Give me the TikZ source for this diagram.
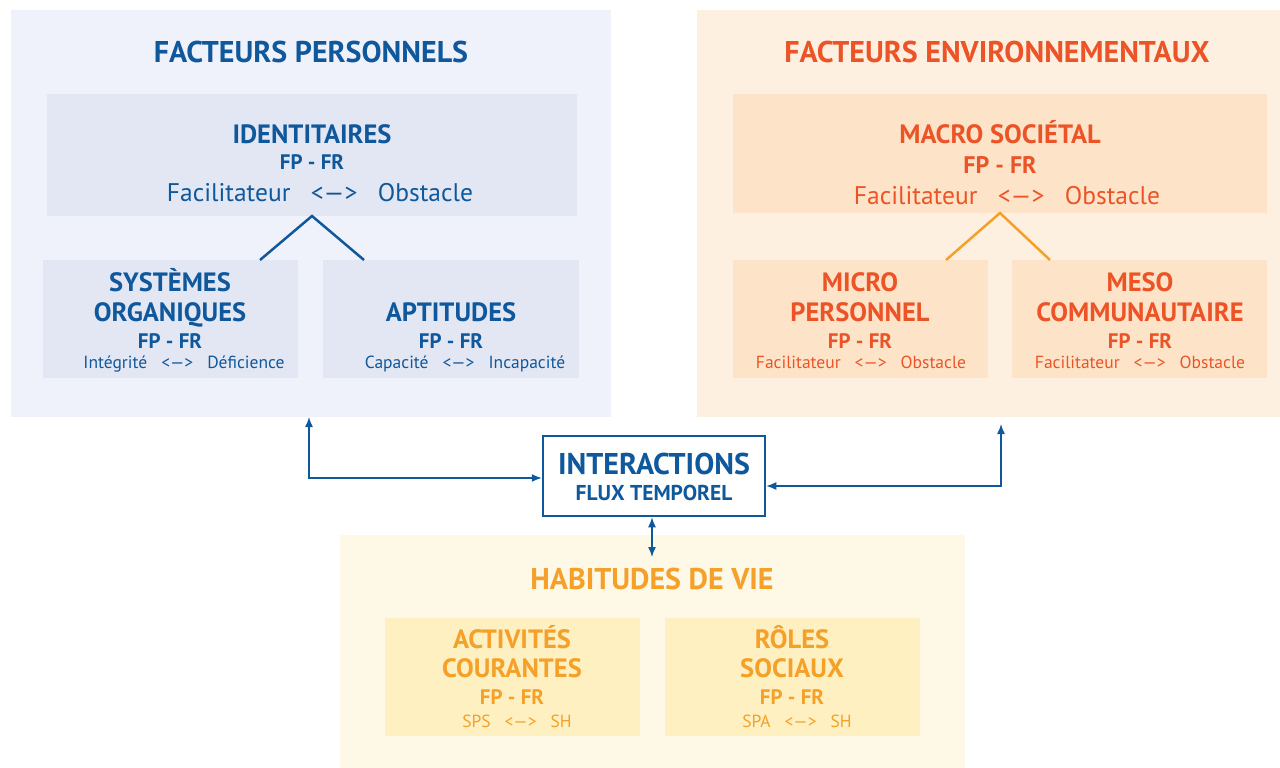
\documentclass[tikz,border=0pt]{standalone}
\usepackage{fontspec}
\setmainfont{PT Sans}
\usetikzlibrary{positioning,calc,arrows.meta}

\definecolor{fpblue}{RGB}{16,88,156}
\definecolor{persobg}{RGB}{240,242,251}
\definecolor{persobox}{RGB}{227,231,243}
\definecolor{envred}{RGB}{236,84,40}
\definecolor{envbg}{RGB}{253,240,224}
\definecolor{envbox}{RGB}{253,228,200}
\definecolor{envline}{RGB}{245,160,40}
\definecolor{habyel}{RGB}{245,160,40}
\definecolor{habbg}{RGB}{254,248,230}
\definecolor{habbox}{RGB}{254,240,192}

\newcommand{\rel}[2]{#1\hspace{0.8em}<—>\hspace{0.8em}#2}

\begin{document}
\begin{tikzpicture}[x=1pt, y=-1pt,
    zone/.style = {anchor=north west, inner sep=0pt, outer sep=0pt},
    title/.style = {anchor=base, font=\fontsize{30}{33}\selectfont\bfseries},
    head/.style = {anchor=base, font=\fontsize{26.5}{29}\selectfont\bfseries},
    fpfr/.style = {anchor=base, font=\fontsize{21}{24}\selectfont\bfseries},
    relbig/.style = {anchor=base, font=\fontsize{25.5}{28}\selectfont},
    relsmall/.style = {anchor=base, font=\fontsize{17.5}{20}\selectfont},
    tree/.style = {line width=2.5pt},
    flux/.style = {draw=fpblue, line width=1.4pt, {Latex[length=10pt,width=8pt]}-{Latex[length=10pt,width=8pt]}}]

    \useasboundingbox (0,0) rectangle (1280,768);

    % fonds
    \node[zone, fill=persobg, minimum width=600pt, minimum height=407pt] (perso) at (11,10) {};
    \node[zone, fill=envbg, minimum width=583pt, minimum height=407pt] (envi) at (697,10) {};
    \node[zone, fill=habbg, minimum width=625pt, minimum height=233pt] (habit) at (340,535) {};

    % facteurs personnels
    \node[title, text=fpblue] (persoT) at (311,63) {FACTEURS PERSONNELS};
    \node[zone, fill=persobox, minimum width=530pt, minimum height=122pt] (ident) at (47,94) {};
    \node[zone, fill=persobox, minimum width=255pt, minimum height=118pt] (sysorg) at (43,260) {};
    \node[zone, fill=persobox, minimum width=256pt, minimum height=118pt] (aptit) at (323,260) {};

    \node[head, text=fpblue] (identA) at (312,143) {IDENTITAIRES};
    \node[fpfr, text=fpblue] (identB) at (312,169) {FP - FR};
    \node[relbig, text=fpblue] (identC) at (320,201) {\rel{Facilitateur}{Obstacle}};

    \node[head, text=fpblue] (sysorgA) at (170,291) {SYSTÈMES};
    \node[head, text=fpblue] (sysorgB) at (170,321) {ORGANIQUES};
    \node[fpfr, text=fpblue] (sysorgC) at (170,348) {FP - FR};
    \node[relsmall, text=fpblue] (sysorgD) at (184,368) {\rel{Intégrité}{Déficience}};

    \node[head, text=fpblue] (aptitA) at (451,321) {APTITUDES};
    \node[fpfr, text=fpblue] (aptitB) at (451,348) {FP - FR};
    \node[relsmall, text=fpblue] (aptitC) at (465,368) {\rel{Capacité}{Incapacité}};

    \draw[tree, fpblue] ([xshift=-38pt]sysorg.north east) -- (ident.south) -- ([xshift=41pt]aptit.north west);

    % facteurs environnementaux
    \node[title, text=envred] (enviT) at (997,63) {FACTEURS ENVIRONNEMENTAUX};
    \node[zone, fill=envbox, minimum width=534pt, minimum height=119pt] (macro) at (733,94) {};
    \node[zone, fill=envbox, minimum width=255pt, minimum height=118pt] (micro) at (733,260) {};
    \node[zone, fill=envbox, minimum width=255pt, minimum height=118pt] (meso) at (1012,260) {};

    \node[head, text=envred] (macroA) at (1000,143) {MACRO SOCIÉTAL};
    \node[fpfr, text=envred, font=\fontsize{24}{27}\selectfont\bfseries] (macroB) at (1000,173) {FP - FR};
    \node[relbig, text=envred] (macroC) at (1007,204) {\rel{Facilitateur}{Obstacle}};

    \node[head, text=envred] (microA) at (860,291) {MICRO};
    \node[head, text=envred] (microB) at (860,321) {PERSONNEL};
    \node[fpfr, text=envred] (microC) at (860,348) {FP - FR};
    \node[relsmall, text=envred] (microD) at (861,368) {\rel{Facilitateur}{Obstacle}};

    \node[head, text=envred] (mesoA) at (1140,291) {MESO};
    \node[head, text=envred] (mesoB) at (1140,321) {COMMUNAUTAIRE};
    \node[fpfr, text=envred] (mesoC) at (1140,348) {FP - FR};
    \node[relsmall, text=envred] (mesoD) at (1140,368) {\rel{Facilitateur}{Obstacle}};

    \draw[tree, envline] ([xshift=-42pt]micro.north east) -- (macro.south) -- ([xshift=38pt]meso.north west);

    % habitudes de vie
    \node[title, text=habyel] (habitT) at (652,589) {HABITUDES DE VIE};
    \node[zone, fill=habbox, minimum width=255pt, minimum height=118pt] (activ) at (385,618) {};
    \node[zone, fill=habbox, minimum width=255pt, minimum height=118pt] (roles) at (665,618) {};

    \node[head, text=habyel] (activA) at (512,648) {ACTIVITÉS};
    \node[head, text=habyel] (activB) at (512,677) {COURANTES};
    \node[fpfr, text=habyel] (activC) at (512,704) {FP - FR};
    \node[relsmall, text=habyel] (activD) at (517,727) {\rel{SPS}{SH}};

    \node[head, text=habyel] (rolesA) at (792,648) {RÔLES};
    \node[head, text=habyel] (rolesB) at (792,677) {SOCIAUX};
    \node[fpfr, text=habyel] (rolesC) at (792,704) {FP - FR};
    \node[relsmall, text=habyel] (rolesD) at (797,727) {\rel{SPA}{SH}};

    % interactions
    \node[draw=fpblue, line width=2.5pt, fill=white, minimum width=222pt, minimum height=80pt, inner sep=0pt] (inter) at (654,476) {};
    \node[anchor=base, text=fpblue, font=\fontsize{30}{33}\selectfont\bfseries] (interA) at (654,474) {INTERACTIONS};
    \node[anchor=base, text=fpblue, font=\fontsize{21.5}{24}\selectfont\bfseries] (interB) at (654,500) {FLUX TEMPOREL};

    \coordinate (lk) at (309,478);
    \coordinate (rk) at (1001,486);
    \coordinate (rtop) at (1001,424);
    \coordinate (hb) at (652,557);

    \draw[flux] (perso.south -| lk) -- (lk) -- (inter.west |- lk);
    \draw[flux] (rtop) -- (rk) -- (inter.east |- rk);
    \draw[flux] (inter.south -| hb) -- (hb);
\end{tikzpicture}
\end{document}
